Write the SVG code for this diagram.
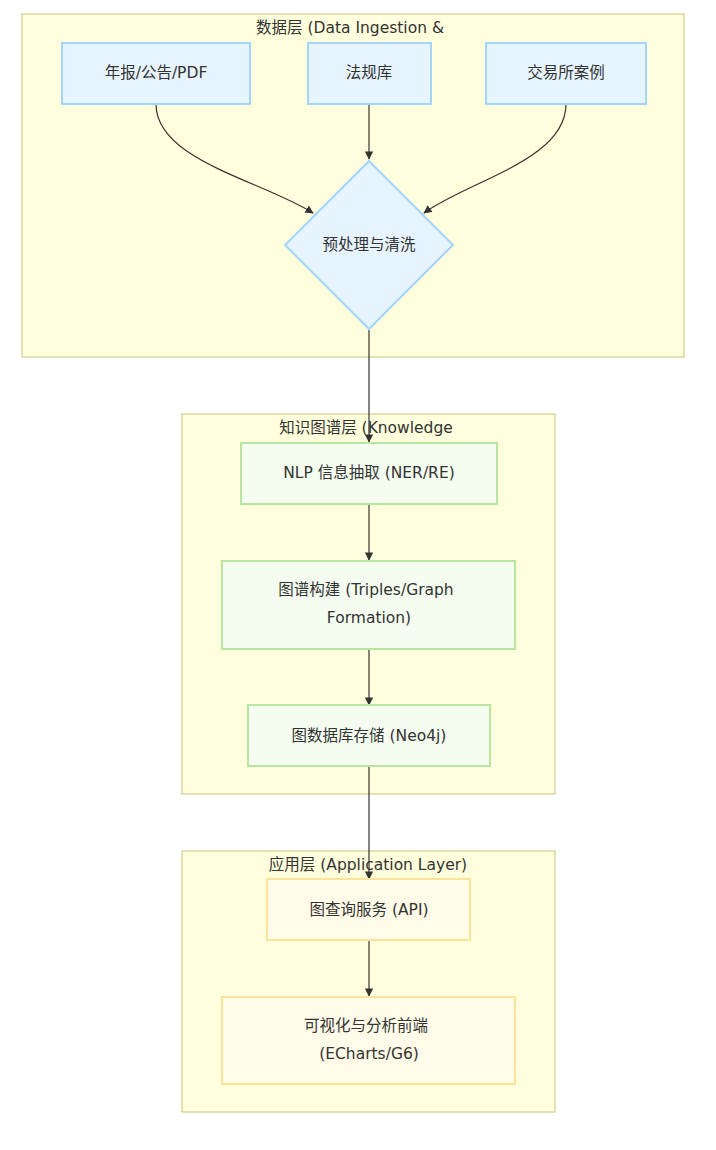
<svg xmlns="http://www.w3.org/2000/svg" width="716" height="1150" viewBox="0 0 716 1150">
<style>
text{font-family:"DejaVu Sans","Noto Sans CJK SC",sans-serif;font-size:15.5px;fill:#333;text-anchor:middle;dominant-baseline:central}
.cl{fill:#ffffde;stroke:#c5c57a;stroke-width:1}
.b{fill:#e6f4ff;stroke:#a3d4fb;stroke-width:2}
.g{fill:#f5fdf0;stroke:#b8e6a0;stroke-width:2}
.y{fill:#fffbe8;stroke:#fbe49a;stroke-width:2}
.e{fill:none;stroke:#333;stroke-width:1.2}
</style>
<defs><marker id="a" viewBox="0 0 10 10" refX="9" refY="5" markerWidth="7" markerHeight="7" orient="auto"><path d="M0,0L10,5L0,10z" fill="#333"/></marker></defs>
<rect width="716" height="1150" fill="#fff"/>
<g id="c1"><rect class="cl" x="22" y="14" width="662" height="343"/><text x="350" y="28">数据层 (Data Ingestion &amp;</text></g>
<g id="c2"><rect class="cl" x="182" y="414" width="373" height="380"/><text x="366" y="428">知识图谱层 (Knowledge</text></g>
<g id="c3"><rect class="cl" x="182" y="851" width="373" height="261"/><text x="368" y="865">应用层 (Application Layer)</text></g>
<g id="edges">
<path class="e" d="M156,104C156,160 260,180 313,213" marker-end="url(#a)"/>
<path class="e" d="M369,104V159" marker-end="url(#a)"/>
<path class="e" d="M566,104C566,160 470,180 424,213" marker-end="url(#a)"/>
<path class="e" d="M369,330V442" marker-end="url(#a)"/>
<path class="e" d="M369,504V560" marker-end="url(#a)"/>
<path class="e" d="M369,649V705" marker-end="url(#a)"/>
<path class="e" d="M369,766V879" marker-end="url(#a)"/>
<path class="e" d="M369,940V996" marker-end="url(#a)"/>
</g>
<g id="n1"><rect class="b" x="62" y="43" width="188" height="61"/><text x="156" y="73">年报/公告/PDF</text></g>
<g id="n2"><rect class="b" x="308" y="43" width="123" height="61"/><text x="369" y="73">法规库</text></g>
<g id="n3"><rect class="b" x="486" y="43" width="160" height="61"/><text x="566" y="73">交易所案例</text></g>
<g id="n4"><polygon class="b" points="369,161 453,245 369,329 285,245"/><text x="369" y="245">预处理与清洗</text></g>
<g id="n5"><rect class="g" x="241" y="443" width="256" height="61"/><text x="369" y="473">NLP 信息抽取 (NER/RE)</text></g>
<g id="n6"><rect class="g" x="222" y="561" width="293" height="88"/><text x="366" y="590">图谱构建 (Triples/Graph</text><text x="369" y="618">Formation)</text></g>
<g id="n7"><rect class="g" x="248" y="705" width="242" height="61"/><text x="369" y="736">图数据库存储 (Neo4j)</text></g>
<g id="n8"><rect class="y" x="267" y="879" width="203" height="61"/><text x="369" y="910">图查询服务 (API)</text></g>
<g id="n9"><rect class="y" x="222" y="997" width="293" height="87"/><text x="366" y="1026">可视化与分析前端</text><text x="369" y="1054">(ECharts/G6)</text></g>
</svg>
